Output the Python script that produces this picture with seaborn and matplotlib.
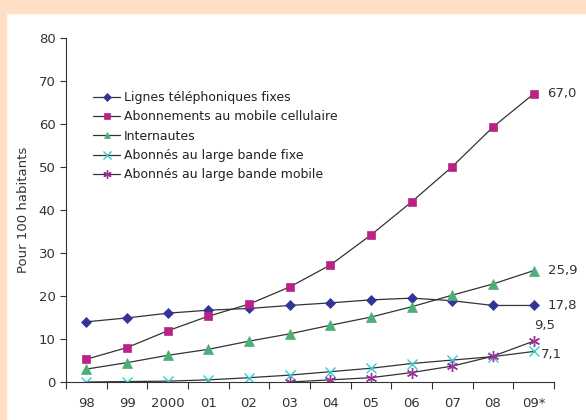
import numpy as np
import pandas as pd
import matplotlib.pyplot as plt
import seaborn as sns
from matplotlib.patches import Rectangle

# Data (per 100 inhabitants)
years = ["98", "99", "2000", "01", "02", "03", "04", "05", "06", "07", "08", "09*"]
lignes_fixes = [14.0, 14.9, 16.0, 16.7, 17.1, 17.8, 18.4, 19.1, 19.5, 18.9, 17.8, 17.8]
mobile_cell = [5.3, 8.0, 11.9, 15.3, 18.1, 22.1, 27.2, 34.2, 41.9, 50.1, 59.3, 67.0]
internautes = [3.0, 4.5, 6.2, 7.6, 9.5, 11.2, 13.2, 15.1, 17.5, 20.2, 22.8, 25.9]
large_bande_fixe = [0.0, 0.1, 0.2, 0.5, 1.0, 1.6, 2.4, 3.2, 4.3, 5.1, 5.9, 7.1]
large_bande_mobile_years = ["03", "04", "05", "06", "07", "08", "09*"]
large_bande_mobile = [0.0, 0.5, 1.0, 2.2, 3.7, 6.0, 9.5]

series = [
    ("Lignes téléphoniques fixes", years, lignes_fixes, "D", "#333399", 5),
    ("Abonnements au mobile cellulaire", years, mobile_cell, "s", "#BB2288", 6),
    ("Internautes", years, internautes, "^", "#4DAF78", 6.5),
    ("Abonnés au large bande fixe", years, large_bande_fixe, "x", "#33CCCC", 7),
    ("Abonnés au large bande mobile", large_bande_mobile_years, large_bande_mobile, (6, 2, 0), "#993399", 8),
]

sns.set_style("ticks")
plt.rcParams["font.family"] = ["DejaVu Sans"]

fig = plt.figure(figsize=(5.86, 4.2), dpi=100, facecolor="white")
fig.patches.append(Rectangle((0, 1 - 13 / 420), 1, 13 / 420, transform=fig.transFigure,
                             color="#FFDFC6", zorder=0))
fig.patches.append(Rectangle((0, 0), 6 / 586, 1, transform=fig.transFigure,
                             color="#FFDFC6", zorder=0))
ax = fig.add_axes([66 / 586, 1 - 382 / 420, 488 / 586, 344 / 420])

for name, xs, ys, marker, color, size in series:
    df = pd.DataFrame({"annee": xs, "valeur": ys})
    sns.lineplot(data=df, x="annee", y="valeur", ax=ax, color="#333333", linewidth=0.9,
                 marker=marker, markersize=size, markerfacecolor=color,
                 markeredgecolor=color, markeredgewidth=1.0 if marker in ("x", (6, 2, 0)) else 0.5,
                 label=name)

ax.set_xlim(-0.5, 11.5)
ax.set_ylim(0, 80)
ax.set_yticks(range(0, 81, 10))
ax.set_xticks(np.arange(-0.5, 12, 1))
ax.set_xticklabels([])
ax.set_xticks(range(len(years)), minor=True)
ax.set_xticklabels(years, minor=True)
ax.tick_params(axis="x", which="major", length=5, width=0.8, color="#333333")
ax.tick_params(axis="x", which="minor", length=0, pad=11, labelsize=9.5, labelcolor="#333333")
ax.tick_params(axis="y", length=4, width=0.8, color="#333333", labelsize=9.5, labelcolor="#333333")
ax.set_xlabel("")
ax.set_ylabel("Pour 100 habitants", fontsize=9.5, color="#333333", labelpad=6)
sns.despine(ax=ax)
for s in ("left", "bottom"):
    ax.spines[s].set_color("#333333")
    ax.spines[s].set_linewidth(0.8)

leg = ax.legend(loc="upper left", bbox_to_anchor=(0.045, 0.86), frameon=False,
                fontsize=9, handlelength=2.2, handletextpad=0.25, labelspacing=0.5,
                borderaxespad=0, markerscale=0.75)
for t in leg.get_texts():
    t.set_color("#222222")

# End labels
ax.annotate("67,0", (11, 67.0), xytext=(10, 0), textcoords="offset points",
            ha="left", va="center", fontsize=9.5, color="#333333")
ax.annotate("25,9", (11, 25.9), xytext=(10, 0), textcoords="offset points",
            ha="left", va="center", fontsize=9.5, color="#333333")
ax.annotate("17,8", (11, 17.8), xytext=(10, 0), textcoords="offset points",
            ha="left", va="center", fontsize=9.5, color="#333333")
ax.annotate("9,5", (11, 9.5), xytext=(0, 11), textcoords="offset points",
            ha="left", va="center", fontsize=9.5, color="#333333")
ax.annotate("7,1", (11, 7.1), xytext=(5, -2), textcoords="offset points",
            ha="left", va="center", fontsize=9.5, color="#333333")

fig.savefig("out.png", dpi=100, facecolor=fig.get_facecolor())
